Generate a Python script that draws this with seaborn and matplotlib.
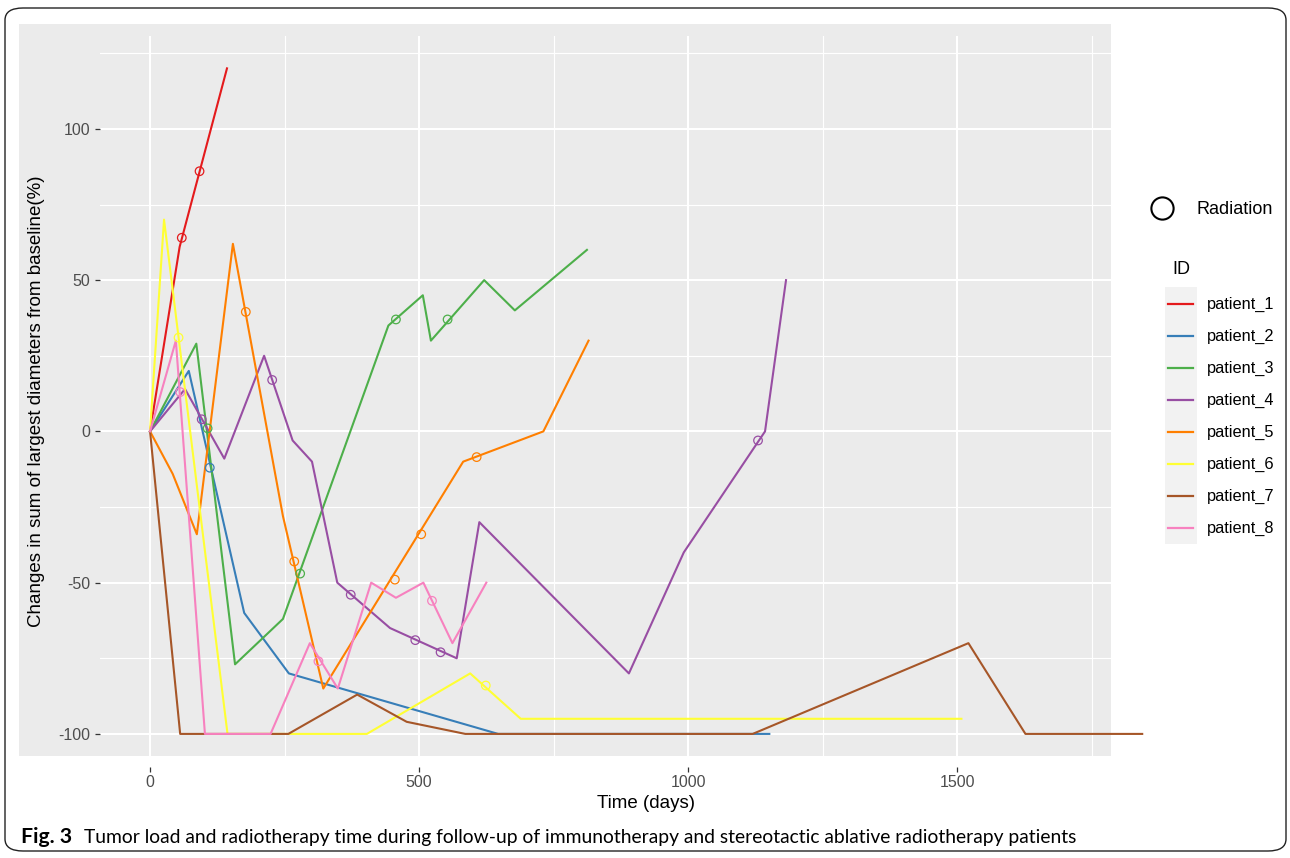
import pandas as pd
import numpy as np
import seaborn as sns
import matplotlib.pyplot as plt
from matplotlib.patches import Rectangle, FancyBboxPatch
from matplotlib.lines import Line2D

# Tumour load trajectories: days since start, % change in sum of largest diameters
p1_day = [0, 55, 143]
p1_chg = [0, 61, 120]
p2_day = [0, 72, 175, 258, 647, 1151]
p2_chg = [0, 20, -60, -80, -100, -100]
p3_day = [0, 86, 158, 247, 443, 507, 522, 621, 678, 812]
p3_chg = [0, 29, -77, -62, 35, 45, 30, 50, 40, 60]
p4_day = [0, 65, 138, 212, 265, 301, 348, 446, 570, 612, 890, 992, 1143, 1182]
p4_chg = [0, 14, -9, 25, -3, -10, -50, -65, -75, -30, -80, -40, 0, 50]
p5_day = [0, 42, 87, 154, 247, 322, 582, 731, 815]
p5_chg = [0, -14, -34, 62, -28, -85, -10, 0, 30]
p6_day = [0, 26, 144, 403, 595, 689, 1508]
p6_chg = [0, 70, -100, -100, -80, -95, -95]
p7_day = [0, 56, 257, 385, 477, 586, 1120, 1521, 1627, 1844]
p7_chg = [0, -100, -100, -87, -96, -100, -100, -70, -100, -100]
p8_day = [0, 48, 102, 224, 297, 349, 411, 457, 508, 562, 625]
p8_chg = [0, 30, -100, -100, -70, -85, -50, -55, -50, -70, -50]

# Radiation time points
rad_id = ['patient_1', 'patient_1', 'patient_2',
          'patient_3', 'patient_3', 'patient_3', 'patient_3',
          'patient_4', 'patient_4', 'patient_4', 'patient_4', 'patient_4', 'patient_4',
          'patient_5', 'patient_5', 'patient_5', 'patient_5', 'patient_5',
          'patient_6', 'patient_6',
          'patient_8', 'patient_8', 'patient_8']
rad_day = [59, 92, 111,
           107, 279, 457, 553,
           96, 227, 373, 493, 540, 1130,
           178, 268, 455, 504, 607,
           53, 624,
           56, 313, 524]
rad_chg = [64, 86, -12,
           1, -47, 37, 37,
           4, 17, -54, -69, -73, -3,
           39.5, -43, -49, -34, -8.5,
           31, -84,
           13, -76, -56]

patients = ['patient_1', 'patient_2', 'patient_3', 'patient_4',
            'patient_5', 'patient_6', 'patient_7', 'patient_8']
days = [p1_day, p2_day, p3_day, p4_day, p5_day, p6_day, p7_day, p8_day]
chgs = [p1_chg, p2_chg, p3_chg, p4_chg, p5_chg, p6_chg, p7_chg, p8_chg]

df = pd.concat([pd.DataFrame({'ID': pid, 'day': d, 'chg': c})
                for pid, d, c in zip(patients, days, chgs)], ignore_index=True)
rad = pd.DataFrame({'ID': rad_id, 'day': rad_day, 'chg': rad_chg})

colors = sns.color_palette('Set1', 8)
pal = dict(zip(patients, colors))

plt.rcParams['font.family'] = ['Liberation Sans', 'DejaVu Sans']
plt.rcParams['axes.unicode_minus'] = False

W, H = 1290, 858
def fx(px):
    return px / W
def fy(py):
    return 1 - py / H

fig = plt.figure(figsize=(12.9, 8.58), dpi=100)

# outer frame and grey panel background
fig.add_artist(FancyBboxPatch((fx(5), fy(851)), fx(1281), (851 - 8) / H,
                              boxstyle='round,pad=0,rounding_size=0.014',
                              transform=fig.transFigure, facecolor='none',
                              edgecolor='#222222', linewidth=1.0, zorder=-2))
fig.add_artist(Rectangle((fx(19), fy(756)), fx(1111 - 19), (756 - 24) / H,
                         transform=fig.transFigure, facecolor='#EBEBEB',
                         edgecolor='none', zorder=-1))

ax = fig.add_axes([fx(100), fy(756), (1111 - 100) / W, (756 - 36) / H])
ax.set_facecolor('none')

sns.lineplot(data=df, x='day', y='chg', hue='ID', palette=pal, estimator=None,
             sort=False, linewidth=1.5, legend=False, ax=ax)
for ln in ax.lines:
    ln.set_clip_on(False)

sns.scatterplot(data=rad, x='day', y='chg', hue='ID', palette=pal, s=38,
                linewidth=0.9, legend=False, ax=ax, zorder=3)
pts = ax.collections[-1]
pts.set_edgecolors(pts.get_facecolors())
pts.set_facecolors('none')

ax.set_xlim(-93, 1786)
ax.set_ylim(-107.3, 130.7)
ax.set_xticks([0, 500, 1000, 1500])
ax.set_xticks([250, 750, 1250, 1750], minor=True)
ax.set_yticks([-100, -50, 0, 50, 100])
ax.set_yticks([-75, -25, 25, 75, 125], minor=True)
ax.grid(which='major', color='white', linewidth=1.5)
ax.grid(which='minor', color='white', linewidth=0.8)
ax.set_axisbelow(True)
for s in ax.spines.values():
    s.set_visible(False)
ax.spines['bottom'].set_position(('outward', 8))
ax.tick_params(which='major', length=3.5, width=0.9, color='#333333',
               labelcolor='#4D4D4D', labelsize=11.5)
ax.tick_params(axis='x', pad=2)
ax.tick_params(which='minor', length=0)
ax.set_xlabel('')
ax.set_ylabel('')

fig.text(fx(37), fy(401), 'Changes in sum of largest diameters from baseline(%)',
         rotation=90, ha='center', va='center', fontsize=13.5)
fig.text(fx(646), fy(803), 'Time (days)', ha='center', va='center', fontsize=13.5)

# legend: radiation marker
fig.add_artist(Line2D([fx(1162)], [fy(208)], marker='o', markersize=16,
                      markerfacecolor='none', markeredgecolor='black',
                      markeredgewidth=1.5, transform=fig.transFigure))
fig.text(fx(1196), fy(209), 'Radiation', ha='left', va='center', fontsize=13)

# legend: patient IDs
fig.text(fx(1172), fy(269), 'ID', ha='left', va='center', fontsize=13)
fig.add_artist(Rectangle((fx(1165), fy(544)), fx(32), (544 - 287) / H,
                         transform=fig.transFigure, facecolor='#F2F2F2',
                         edgecolor='none'))
for i, pid in enumerate(patients):
    yy = 304 + 32 * i
    fig.add_artist(Line2D([fx(1168), fx(1193)], [fy(yy), fy(yy)], color=pal[pid],
                          linewidth=1.6, transform=fig.transFigure))
    fig.text(fx(1207), fy(yy), pid, ha='left', va='center', fontsize=11.8)

# caption, sized to the width in the printed figure
cap_font = ['Lato', 'DejaVu Sans']
lab = fig.text(fx(21), fy(843), 'Fig. 3', ha='left', va='baseline', fontsize=14,
               fontweight='bold', family=cap_font)
cap = fig.text(fx(84), fy(843),
               'Tumor load and radiotherapy time during follow-up of immunotherapy '
               'and stereotactic ablative radiotherapy patients',
               ha='left', va='baseline', fontsize=14, family=cap_font)
fig.canvas.draw()
cap_size = 14 * 999 / cap.get_window_extent().width
cap.set_fontsize(cap_size)
lab.set_fontsize(cap_size * 1.1)

fig.savefig('out.png', dpi=100)
